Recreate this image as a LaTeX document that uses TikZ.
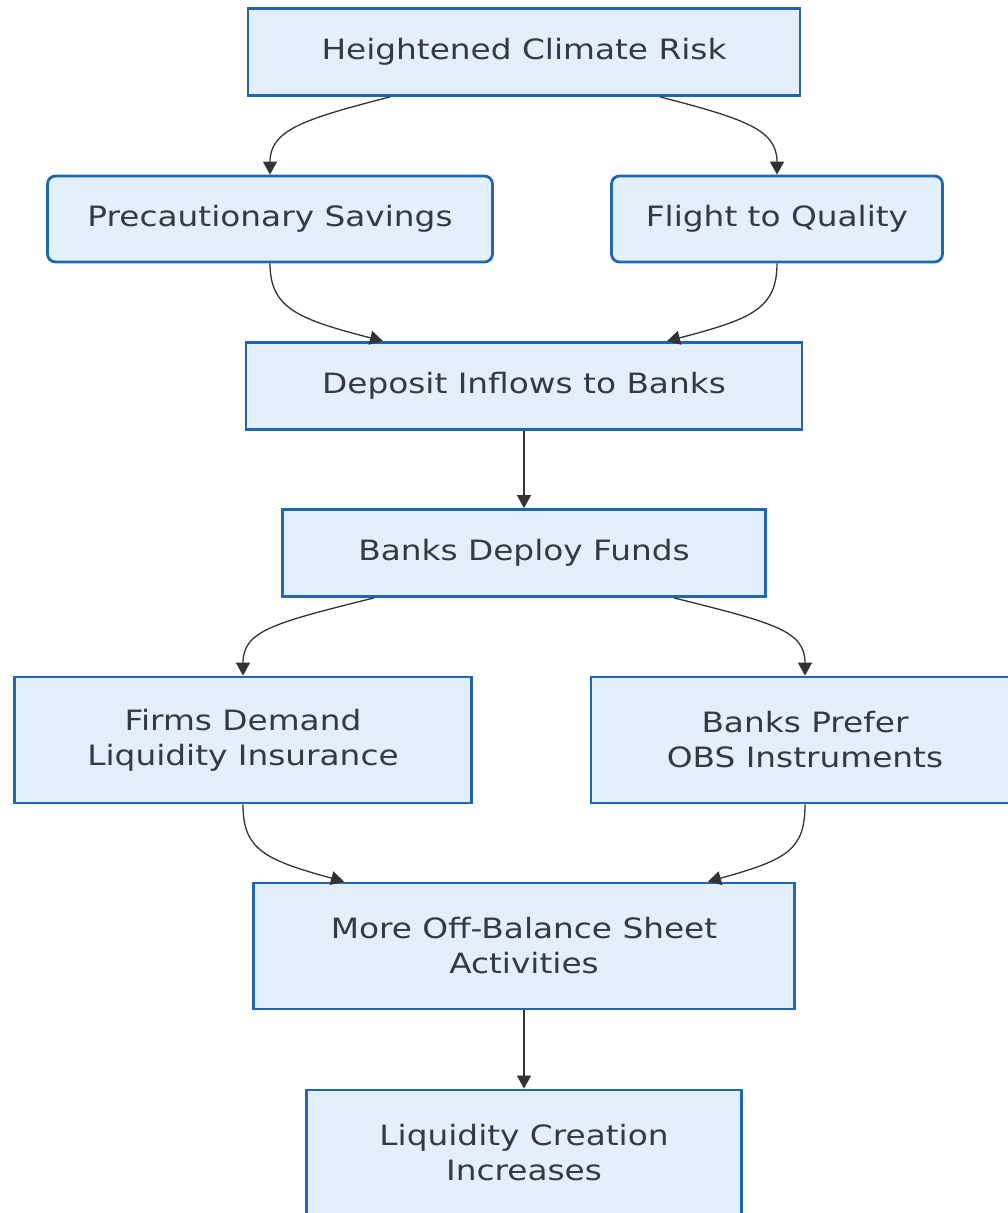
\documentclass[tikz,border=0pt]{standalone}
\usepackage{fontspec}
\setmainfont{DejaVu Sans}[FakeStretch=1.17]
\usetikzlibrary{arrows.meta, positioning, calc}
\definecolor{boxfill}{HTML}{E3F0FC}
\definecolor{boxline}{HTML}{2166B5}
\definecolor{txtgray}{HTML}{333A40}
\definecolor{arrowgray}{HTML}{333333}

\begin{document}
\begin{tikzpicture}[ x=1pt, y=-1pt, box/.style={draw=boxline, fill=boxfill,
      line width=2.8pt, text=txtgray, align=center, inner sep=0pt,
      minimum height=87pt, font=\fontsize{28pt}{35pt}\selectfont},
      tallbox/.style={box, minimum height=126pt}, roundbox/.style={box,
      rounded corners=8pt}, flow/.style={draw=arrowgray, line width=1.3pt,
      -{Triangle[length=13pt, width=14pt]}} ]
    \useasboundingbox (0,0) rectangle (1007,1213);

    % Boxes
    \node[box, minimum width=552pt] (risk) at (524,52) {Heightened Climate Risk};
    \node[roundbox, minimum width=445pt, minimum height=86pt] (saving) at
    (270,219) {Precautionary Savings}; \node[roundbox, minimum width=331pt,
    minimum height=86pt] (flight) at (777,219) {Flight to Quality};
    \node[box, minimum width=556pt] (deposit) at (524,386) {Deposit Inflows to
    Banks}; \node[box, minimum width=483pt] (deploy) at (524,553) {Banks Deploy
    Funds};
    \node[tallbox, minimum width=457pt] (firms) at (243,740) {Firms Demand\\
    Liquidity Insurance}; \node[tallbox, minimum width=428pt] (prefer) at
    (805,740) {Banks Prefer\\ OBS Instruments};
    \node[tallbox, minimum width=541pt] (obs) at (524,946) {More Off-Balance
    Sheet\\ Activities}; \node[tallbox, minimum width=435pt] (liq) at
    (524,1153) {Liquidity Creation\\ Increases};

    % Split after the risk
    \draw[flow] ([xshift=-134pt]risk.south) .. controls +(-85,22) and +(0,-45)
    .. (saving.north); \draw[flow] ([xshift=136pt]risk.south) .. controls
    +(85,22) and +(0,-45) .. (flight.north);

    % Merge into deposits
    \draw[flow] (saving.south) .. controls +(0,45) and +(-85,-22) ..
    ([xshift=-141pt]deposit.north); \draw[flow] (flight.south) .. controls
    +(0,45) and +(85,-22) .. ([xshift=143pt]deposit.north);
    \draw[flow] (deposit.south) -- (deploy.north);

    % Split after deployment
    \draw[flow] ([xshift=-150pt]deploy.south) .. controls +(-100,25) and
    +(0,-45) .. (firms.north); \draw[flow] ([xshift=150pt]deploy.south) ..
    controls +(100,25) and +(0,-45) .. (prefer.north);

    % Merge into OBS
    \draw[flow] (firms.south) .. controls +(0,45) and +(-80,-22) ..
    ([xshift=-180pt]obs.north); \draw[flow] (prefer.south) .. controls +(0,45)
    and +(80,-22) .. ([xshift=184pt]obs.north);
    \draw[flow] (obs.south) -- (liq.north);

    \end{tikzpicture}
\end{document}
